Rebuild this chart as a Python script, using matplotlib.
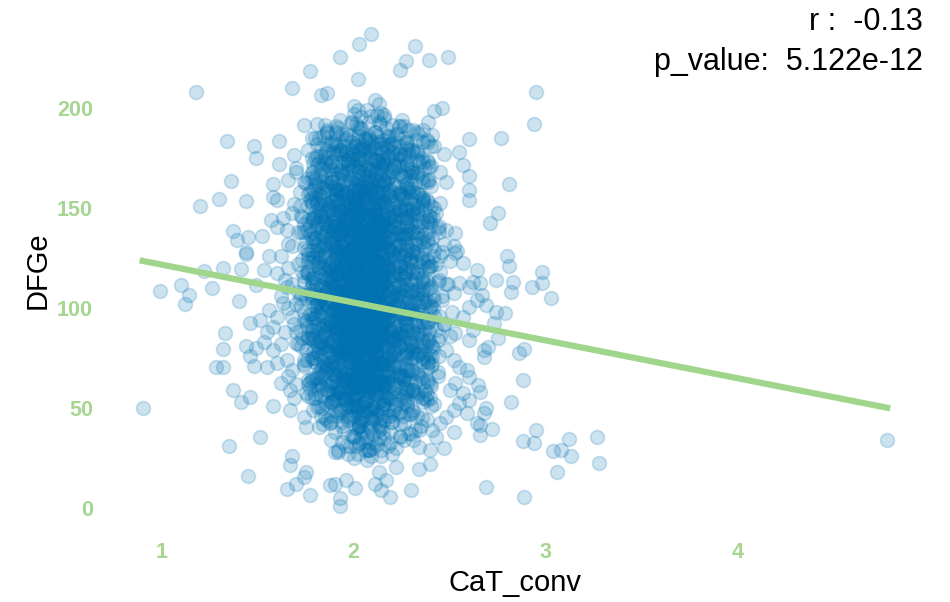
import numpy as np
import matplotlib.pyplot as plt

plt.rcParams['font.family'] = ['Liberation Sans', 'DejaVu Sans']

# scattered points around the blob
cat_conv_sparse = [
    2.09, 2.03, 1.93, 1.77, 2.02, 1.68, 1.83, 1.86, 1.18, 2.11, 2.02, 1.74, 1.85, 1.34, 1.48, 1.49,
    1.61, 1.69, 1.61, 1.70, 1.70, 1.36, 1.30, 1.20, 1.44, 1.58, 1.37, 1.39, 1.45, 1.52, 1.44, 1.66,
    1.75, 1.79, 1.80, 1.58, 1.60, 1.57, 1.60, 1.65, 1.68, 1.73, 1.81, 1.84, 1.89, 1.85, 1.92, 1.86,
    1.91, 1.99, 2.02, 2.04, 2.12, 1.99, 2.04, 2.08,
    2.32, 2.27, 2.24, 2.39, 2.49, 2.95, 2.94, 2.77, 2.60, 2.42, 2.46, 2.55, 2.47, 2.57, 2.60, 2.60,
    2.60, 2.81, 2.75, 2.71, 2.53, 2.54, 2.80, 2.39, 2.45, 2.48, 2.39, 2.45, 2.42, 2.36, 2.41, 2.42,
    2.33, 2.26, 2.20, 2.20, 2.20, 2.16, 2.14, 2.27, 2.33, 2.29, 2.36, 2.43, 2.48, 2.52,
    0.99, 1.10, 1.14, 1.12, 1.22, 1.26, 1.32, 1.41, 1.44, 1.40, 1.33, 1.32, 1.28, 1.32, 1.37, 1.41,
    1.46, 0.90, 1.58, 1.51, 1.35, 1.45, 1.68, 1.67, 1.75, 1.74, 1.65, 1.70, 1.77, 1.875, 1.90, 1.96,
    2.005, 1.93, 1.93, 1.90, 1.92,
    1.46, 1.51, 1.55, 1.58, 1.44, 1.49, 1.46, 1.48, 1.55, 1.60, 1.58, 1.53, 1.65, 1.68, 1.62, 1.67,
    1.69, 1.75, 1.67, 1.74, 1.75, 1.82, 1.875, 1.81, 1.82, 1.89, 1.96, 2.00, 2.03, 2.07, 2.07,
    1.49, 1.53, 1.56, 1.60, 1.65, 1.63, 1.56, 1.60, 1.68, 1.72, 1.70, 1.75, 1.74,
    2.81, 2.74, 2.83, 2.82, 2.98, 2.98, 2.93, 3.03, 2.79, 2.75, 2.86, 2.89, 2.88, 2.82, 2.95,
    2.88, 2.94, 3.04, 3.08, 3.06, 2.69, 2.89, 2.66, 2.66, 2.72, 2.68, 2.69, 2.65, 2.66, 2.64, 2.68,
    2.68, 2.70, 2.74, 2.73, 2.69, 2.67, 2.66, 2.62, 2.60, 2.64, 2.57, 2.53, 2.50,
    3.12, 3.13, 3.27, 3.28, 4.78,
    2.60, 2.59, 2.52, 2.47, 2.43, 2.40, 2.34, 2.31, 2.22, 2.34, 2.40, 2.13, 2.17, 2.11, 2.14, 2.19,
    2.30, 2.08, 2.14, 2.19, 2.24,
    2.48, 2.52, 2.55, 2.59, 2.60, 2.53, 2.50, 2.57, 2.55, 2.52, 2.48, 2.45, 2.41, 2.38, 2.34, 2.29,
    2.26, 2.53, 2.60, 2.62, 2.57, 2.60, 2.64, 2.52, 2.55,
    2.44, 2.47, 2.45, 2.49, 2.46, 2.51, 2.47, 2.50, 2.44, 2.46, 2.41, 2.43, 2.40, 2.42, 2.39, 2.41,
    2.44, 2.40, 2.37, 2.42,
    1.63, 1.66, 1.62, 1.66, 1.64, 1.62, 1.66, 1.64, 1.62, 1.66, 1.70, 1.71, 1.69, 1.72,
]
dfge_sparse = [
    236.9, 231.9, 225.4, 218.5, 214.5, 209.9, 206.5, 207.4, 207.9, 204, 199, 191.5, 191.5, 183.5, 181, 174.9,
    183.5, 176.2, 172, 169.9, 168, 163.2, 154.5, 150.7, 153.2, 161.9, 138.2, 133.7, 135.2, 135.7, 127.9, 164,
    162.4, 159, 164, 155.5, 154, 144, 140.5, 139, 147.5, 145.5, 140.5, 154, 160.5, 177.5, 177.5, 187.5,
    188, 192.5, 190.5, 195.5, 196.5, 174, 179, 184,
    231, 223.2, 218.7, 224, 225.3, 207.9, 192, 184.8, 184.5, 198.2, 199.8, 177.8, 177, 171.2, 166, 159,
    153.7, 161.8, 147.3, 142.3, 137.3, 128.2, 125.7, 170.2, 167.7, 162.7, 164, 152.3, 149.8, 189, 186.5, 180.7,
    184, 190.7, 191.5, 182.3, 177.3, 196.5, 197.3, 167.3, 165.7, 159.8, 154, 147.3, 139, 130.7,
    108.5, 111.5, 106.5, 101.8, 118.2, 109.8, 119.8, 119.3, 126.8, 103.5, 87.3, 79.5, 70.3, 70.3, 59, 52.8,
    55.7, 49.8, 51, 35.3, 31, 16.2, 26.2, 21.5, 18.2, 15.7, 9.8, 12.3, 6.5, 11.5, 12.3, 14,
    10.3, 5.3, 1, 28.2, 29,
    92.7, 94, 88.2, 90.7, 81, 79.8, 76, 71, 70.7, 72.3, 79, 83.2, 74, 69, 62.3, 59,
    54.8, 57.3, 49, 45.7, 40.7, 40.7, 42.3, 50.7, 59, 55.7, 45.7, 35.7, 32.3, 29, 24,
    111.5, 119, 125.7, 117.3, 110.7, 102.3, 99, 95.7, 95.7, 89, 82.3, 79, 74,
    121, 114, 113.2, 108.2, 117.7, 112.7, 110.3, 104.8, 97.3, 84.8, 77.7, 79.3, 64, 53.2, 39,
    33.7, 32.3, 28.5, 29, 18.2, 10.7, 5.7, 41.5, 36.5, 39.5, 47.3, 49.8, 61.5, 58.2, 42.3, 79,
    75.7, 80.7, 98.2, 92.3, 101.5, 106.5, 112.3, 113.2, 110.7, 119, 122.3, 127.3, 123.2,
    34.3, 26, 35.7, 22.7, 34,
    54, 47.3, 38.2, 29.8, 35.7, 29, 30.7, 34, 20.7, 19.8, 22.3, 18.2, 14, 12.3, 9, 5.7,
    9, 29, 29, 32.3, 35.7,
    79, 74, 70.7, 69, 65.7, 62.3, 59, 57.3, 52.3, 49, 45.7, 42.3, 39, 44, 39, 37.3,
    42.3, 87.3, 84, 89, 95.7, 100.7, 104, 107.3, 112.3,
    140, 132, 118, 112, 104, 98, 92, 86, 84, 128, 135, 122, 110, 96, 88, 76,
    68, 62, 55, 52,
    145, 132, 126, 120, 114, 106, 100, 88, 82, 66, 62, 138, 152, 158,
]

# dense core of the cloud, read band by band
cat_conv_dense = [
    # 180-200
    1.86, 1.90, 1.93, 1.95, 1.98, 2.00, 2.02, 2.04, 2.06, 2.07, 2.09, 2.11, 2.13, 2.15, 2.17, 2.19, 2.22, 2.25, 2.28, 2.31,
    1.88, 1.92, 1.96, 1.99, 2.01, 2.03, 2.05, 2.08, 2.10, 2.12, 2.14, 2.16, 2.18, 2.21, 2.24, 2.27, 1.84, 2.00, 2.09, 2.13,
    # 160-180
    1.78, 1.81, 1.84, 1.87, 1.89, 1.92, 1.94, 1.96, 1.98, 2.00, 2.02, 2.04, 2.05, 2.07, 2.09, 2.11, 2.13, 2.15, 2.17, 2.19, 2.22, 2.25, 2.28, 2.32, 2.37,
    1.80, 1.83, 1.86, 1.88, 1.91, 1.93, 1.95, 1.97, 1.99, 2.01, 2.03, 2.04, 2.06, 2.08, 2.10, 2.12, 2.14, 2.16, 2.18, 2.21, 2.23, 2.26, 2.30, 2.34, 1.76,
    1.82, 1.85, 1.90, 1.94, 1.97, 2.00, 2.02, 2.05, 2.07, 2.09, 2.11, 2.13, 2.15, 2.17, 2.20, 2.24, 2.27, 1.99, 2.03, 2.08, 2.12, 2.06, 1.93, 2.16, 2.29,
    # 140-160
    1.72, 1.76, 1.80, 1.83, 1.86, 1.88, 1.91, 1.93, 1.95, 1.97, 1.99, 2.01, 2.03, 2.05, 2.07, 2.09, 2.11, 2.13, 2.15, 2.18, 2.21, 2.24, 2.28, 2.33, 2.39,
    1.74, 1.78, 1.81, 1.84, 1.87, 1.90, 1.92, 1.94, 1.96, 1.98, 2.00, 2.02, 2.04, 2.06, 2.08, 2.10, 2.12, 2.14, 2.16, 2.19, 2.22, 2.26, 2.30, 2.35, 2.02,
    1.77, 1.82, 1.85, 1.89, 1.91, 1.94, 1.96, 1.98, 2.00, 2.02, 2.04, 2.06, 2.08, 2.10, 2.12, 2.14, 2.17, 2.20, 2.23, 2.27, 2.31, 2.01, 2.07, 2.11, 1.97,
    1.79, 1.84, 1.87, 1.90, 1.93, 1.95, 1.97, 1.99, 2.01, 2.03, 2.05, 2.07, 2.09, 2.11, 2.13, 2.15, 2.18, 2.21, 2.25, 2.29, 2.36, 2.00, 2.06, 2.14, 1.92,
    1.81, 1.86, 1.92, 1.96, 1.99, 2.02, 2.04, 2.06, 2.08, 2.10, 2.12, 2.15, 2.17, 2.20, 2.24, 2.05, 2.09, 1.94, 2.13, 2.19, 1.89, 2.03, 2.16, 2.27, 1.98,
    # 120-140
    1.68, 1.73, 1.77, 1.81, 1.84, 1.87, 1.90, 1.92, 1.94, 1.96, 1.98, 2.00, 2.02, 2.04, 2.06, 2.08, 2.10, 2.12, 2.15, 2.18, 2.21, 2.25, 2.30, 2.37, 2.45,
    1.71, 1.75, 1.79, 1.83, 1.86, 1.89, 1.91, 1.93, 1.95, 1.97, 1.99, 2.01, 2.03, 2.05, 2.07, 2.09, 2.11, 2.13, 2.16, 2.19, 2.23, 2.27, 2.33, 2.40, 2.03,
    1.74, 1.78, 1.82, 1.85, 1.88, 1.91, 1.93, 1.95, 1.97, 1.99, 2.01, 2.03, 2.05, 2.07, 2.09, 2.11, 2.13, 2.15, 2.18, 2.21, 2.24, 2.29, 2.35, 2.08, 2.00,
    1.76, 1.80, 1.84, 1.87, 1.90, 1.92, 1.94, 1.96, 1.98, 2.00, 2.02, 2.04, 2.06, 2.08, 2.10, 2.12, 2.14, 2.17, 2.20, 2.23, 2.27, 2.32, 2.42, 2.05, 1.97,
    1.79, 1.85, 1.89, 1.93, 1.96, 1.99, 2.01, 2.03, 2.05, 2.07, 2.09, 2.11, 2.14, 2.16, 2.19, 2.22, 2.26, 2.31, 2.02, 2.06, 2.10, 1.95, 2.13, 2.18, 1.91,
    1.82, 1.88, 1.94, 1.98, 2.01, 2.04, 2.07, 2.09, 2.12, 2.15, 2.20, 2.24, 2.00, 2.03, 2.08, 2.11, 1.96, 2.14, 2.06, 1.92, 2.17, 2.02, 2.10, 1.99, 2.28,
    # 100-120
    1.68, 1.72, 1.76, 1.80, 1.83, 1.86, 1.89, 1.91, 1.93, 1.95, 1.97, 1.99, 2.01, 2.03, 2.05, 2.07, 2.09, 2.11, 2.14, 2.17, 2.20, 2.24, 2.29, 2.36, 2.46,
    1.70, 1.74, 1.78, 1.82, 1.85, 1.88, 1.90, 1.92, 1.94, 1.96, 1.98, 2.00, 2.02, 2.04, 2.06, 2.08, 2.10, 2.12, 2.15, 2.18, 2.22, 2.26, 2.32, 2.40, 2.01,
    1.73, 1.77, 1.81, 1.84, 1.87, 1.90, 1.92, 1.94, 1.96, 1.98, 2.00, 2.02, 2.04, 2.06, 2.08, 2.10, 2.12, 2.14, 2.17, 2.20, 2.23, 2.28, 2.34, 2.44, 2.07,
    1.75, 1.79, 1.83, 1.86, 1.89, 1.91, 1.93, 1.95, 1.97, 1.99, 2.01, 2.03, 2.05, 2.07, 2.09, 2.11, 2.13, 2.16, 2.19, 2.22, 2.26, 2.31, 2.38, 2.04, 1.96,
    1.78, 1.84, 1.88, 1.92, 1.95, 1.98, 2.00, 2.02, 2.04, 2.06, 2.08, 2.10, 2.13, 2.15, 2.18, 2.21, 2.25, 2.30, 2.01, 2.05, 2.09, 1.94, 2.12, 2.17, 1.90,
    1.81, 1.87, 1.93, 1.97, 2.00, 2.03, 2.06, 2.08, 2.11, 2.14, 2.19, 2.23, 1.99, 2.02, 2.07, 2.10, 1.95, 2.13, 2.05, 1.91, 2.16, 2.01, 2.09, 1.98, 2.27,
    1.71, 1.85, 1.94, 2.00, 2.04, 2.08, 2.12, 2.18, 2.33, 2.48, 1.98, 2.03, 2.06, 2.10, 2.15, 1.96, 2.02, 2.07, 2.11, 2.21, 1.89, 2.05, 2.13, 1.99, 2.42,
    # 80-100
    1.69, 1.73, 1.77, 1.81, 1.84, 1.87, 1.90, 1.92, 1.94, 1.96, 1.98, 2.00, 2.02, 2.04, 2.06, 2.08, 2.10, 2.12, 2.15, 2.18, 2.21, 2.25, 2.30, 2.37, 2.45,
    1.71, 1.75, 1.79, 1.83, 1.86, 1.89, 1.91, 1.93, 1.95, 1.97, 1.99, 2.01, 2.03, 2.05, 2.07, 2.09, 2.11, 2.13, 2.16, 2.19, 2.23, 2.27, 2.33, 2.41, 2.02,
    1.74, 1.78, 1.82, 1.85, 1.88, 1.91, 1.93, 1.95, 1.97, 1.99, 2.01, 2.03, 2.05, 2.07, 2.09, 2.11, 2.13, 2.15, 2.18, 2.21, 2.24, 2.29, 2.35, 2.08, 2.00,
    1.76, 1.80, 1.84, 1.87, 1.90, 1.92, 1.94, 1.96, 1.98, 2.00, 2.02, 2.04, 2.06, 2.08, 2.10, 2.12, 2.14, 2.17, 2.20, 2.23, 2.27, 2.32, 2.43, 2.05, 1.97,
    1.79, 1.85, 1.89, 1.93, 1.96, 1.99, 2.01, 2.03, 2.05, 2.07, 2.09, 2.11, 2.14, 2.16, 2.19, 2.22, 2.26, 2.31, 2.02, 2.06, 2.10, 1.95, 2.13, 2.18, 1.91,
    1.82, 1.88, 1.94, 1.98, 2.01, 2.04, 2.07, 2.09, 2.12, 2.15, 2.20, 2.24, 2.00, 2.03, 2.08, 2.11, 1.96, 2.14, 2.06, 1.92, 2.17, 2.02, 2.10, 1.99, 2.28,
    1.70, 1.86, 1.95, 2.00, 2.05, 2.09, 2.13, 2.19, 2.35, 2.47, 1.97, 2.03, 2.07, 2.11, 2.16, 1.93, 2.01, 2.06, 2.12, 2.22, 1.90, 2.04, 2.14, 1.98, 2.39,
    # 60-80
    1.74, 1.78, 1.82, 1.85, 1.88, 1.90, 1.92, 1.94, 1.96, 1.98, 2.00, 2.02, 2.04, 2.06, 2.08, 2.10, 2.12, 2.14, 2.17, 2.20, 2.23, 2.27, 2.32, 2.38, 2.44,
    1.76, 1.80, 1.84, 1.87, 1.89, 1.91, 1.93, 1.95, 1.97, 1.99, 2.01, 2.03, 2.05, 2.07, 2.09, 2.11, 2.13, 2.16, 2.19, 2.22, 2.26, 2.30, 2.36, 2.02, 2.08,
    1.79, 1.83, 1.86, 1.89, 1.92, 1.94, 1.96, 1.98, 2.00, 2.02, 2.04, 2.06, 2.08, 2.10, 2.12, 2.15, 2.18, 2.21, 2.25, 2.29, 2.41, 2.05, 2.11, 1.97, 2.01,
    1.81, 1.87, 1.91, 1.95, 1.98, 2.01, 2.03, 2.05, 2.07, 2.09, 2.11, 2.13, 2.16, 2.19, 2.23, 2.28, 2.34, 2.04, 2.08, 2.12, 1.96, 2.14, 2.17, 1.93, 2.00,
    1.84, 1.90, 1.95, 1.99, 2.02, 2.06, 2.09, 2.12, 2.15, 2.20, 2.24, 2.00, 2.04, 2.08, 2.11, 1.97, 2.14, 2.07, 1.93, 2.18, 2.03, 2.10, 1.99, 2.26, 2.05,
    1.77, 1.86, 1.92, 1.97, 2.01, 2.05, 2.10, 2.13, 2.18, 2.31, 1.99, 2.03, 2.07, 2.11, 2.16, 1.94, 2.02, 2.06, 2.12, 2.21, 1.88, 2.04, 2.15, 1.98, 2.37,
    # 40-60
    1.82, 1.86, 1.89, 1.92, 1.94, 1.96, 1.98, 2.00, 2.02, 2.04, 2.06, 2.08, 2.10, 2.12, 2.14, 2.16, 2.18, 2.21, 2.24, 2.28, 2.33, 2.38, 2.03, 2.09, 1.97,
    1.84, 1.88, 1.91, 1.93, 1.95, 1.97, 1.99, 2.01, 2.03, 2.05, 2.07, 2.09, 2.11, 2.13, 2.15, 2.17, 2.20, 2.23, 2.26, 2.31, 2.05, 2.12, 1.99, 2.08, 2.02,
    1.87, 1.90, 1.94, 1.98, 2.00, 2.02, 2.04, 2.06, 2.08, 2.10, 2.13, 2.16, 2.19, 2.22, 2.27, 2.35, 2.01, 2.05, 2.09, 2.14, 1.96, 2.11, 2.03, 2.18, 1.92,
    1.85, 1.93, 1.99, 2.03, 2.07, 2.11, 2.15, 2.20, 2.29, 2.00, 2.06, 2.10, 2.14, 1.95, 2.04, 2.08, 2.12, 2.24, 1.90, 2.02, 2.17, 1.97, 2.05, 2.09, 2.01,
    # 25-40
    1.88, 1.92, 1.95, 1.98, 2.00, 2.02, 2.04, 2.06, 2.08, 2.10, 2.12, 2.14, 2.16, 2.19, 2.22, 2.26, 2.30, 2.01, 2.07, 2.13,
    1.90, 1.94, 1.97, 1.99, 2.03, 2.05, 2.09, 2.11, 2.15, 2.18, 2.24, 2.32, 1.96, 2.00, 2.06, 2.13, 2.20, 2.04, 2.10, 2.08,
]
dfge_dense = [
    188, 183, 194, 181, 186, 197, 183, 190, 185, 199, 181, 188, 193, 184, 190, 182, 187, 194, 183, 189,
    182, 190, 185, 181, 192, 186, 181, 193, 183, 186, 180, 195, 181, 184, 191, 180, 186, 201, 196, 202,
    168, 176, 163, 171, 178, 165, 173, 161, 169, 177, 164, 172, 179, 166, 162, 174, 170, 178, 163, 168, 175, 166, 172, 162, 170,
    161, 169, 175, 163, 170, 177, 166, 172, 179, 162, 168, 175, 171, 177, 164, 160, 167, 172, 176, 162, 171, 177, 166, 173, 165,
    173, 166, 160, 168, 174, 165, 179, 161, 170, 175, 167, 162, 173, 180, 169, 174, 160, 171, 164, 178, 170, 163, 179, 164, 176,
    151, 144, 157, 148, 141, 154, 159, 146, 150, 143, 156, 140, 152, 147, 158, 144, 149, 155, 142, 151, 146, 157, 143, 150, 146,
    142, 153, 146, 158, 150, 144, 152, 157, 141, 148, 154, 145, 159, 141, 150, 156, 143, 147, 153, 159, 144, 149, 155, 141, 149,
    158, 149, 143, 147, 156, 140, 145, 153, 159, 150, 142, 156, 146, 152, 158, 141, 148, 152, 140, 145, 152, 145, 141, 146, 158,
    145, 155, 151, 141, 148, 157, 152, 143, 147, 157, 153, 144, 140, 155, 151, 158, 157, 148, 154, 158, 155, 152, 149, 144, 153,
    153, 146, 159, 145, 150, 142, 148, 155, 153, 142, 147, 145, 151, 141, 149, 157, 159, 149, 139, 156, 143, 155, 141, 150, 140,
    131, 124, 137, 128, 121, 134, 139, 126, 130, 123, 136, 120, 132, 127, 138, 124, 129, 135, 122, 131, 126, 137, 123, 130, 126,
    122, 133, 126, 138, 130, 124, 132, 137, 121, 128, 134, 125, 139, 121, 130, 136, 123, 127, 133, 139, 124, 129, 135, 121, 129,
    138, 129, 123, 127, 136, 120, 125, 133, 139, 130, 122, 136, 126, 132, 138, 121, 128, 132, 120, 125, 132, 125, 121, 126, 138,
    125, 135, 131, 121, 128, 137, 132, 123, 127, 137, 133, 124, 120, 135, 131, 138, 137, 128, 134, 138, 135, 132, 129, 128, 120,
    133, 126, 139, 125, 130, 122, 128, 135, 133, 122, 127, 125, 131, 121, 129, 137, 123, 128, 139, 126, 134, 121, 139, 124, 130,
    120, 131, 127, 136, 124, 130, 137, 132, 123, 135, 127, 121, 132, 127, 122, 139, 134, 128, 125, 137, 133, 121, 126, 124, 137,
    112, 105, 117, 108, 101, 114, 119, 106, 110, 103, 116, 100, 112, 107, 118, 104, 109, 115, 102, 111, 106, 117, 103, 110, 106,
    102, 113, 106, 118, 110, 104, 112, 117, 101, 108, 114, 105, 119, 101, 110, 116, 103, 107, 113, 119, 104, 109, 115, 101, 109,
    118, 109, 103, 107, 116, 100, 105, 113, 119, 110, 102, 116, 106, 112, 118, 101, 108, 112, 100, 105, 112, 105, 101, 113, 106,
    105, 115, 111, 101, 108, 117, 112, 103, 107, 117, 113, 104, 100, 115, 111, 118, 117, 108, 114, 118, 115, 112, 109, 108, 100,
    113, 106, 119, 105, 110, 102, 108, 115, 113, 102, 107, 105, 111, 101, 109, 117, 103, 108, 119, 106, 114, 101, 119, 104, 110,
    100, 111, 107, 116, 104, 110, 117, 112, 103, 115, 107, 101, 112, 107, 102, 119, 114, 108, 105, 117, 113, 101, 106, 104, 117,
    108, 103, 118, 111, 102, 114, 109, 103, 118, 112, 106, 116, 109, 104, 118, 109, 101, 112, 116, 110, 115, 108, 105, 114, 104,
    92, 85, 97, 88, 81, 94, 99, 86, 90, 83, 96, 80, 92, 87, 98, 84, 89, 95, 82, 91, 86, 97, 83, 90, 86,
    82, 93, 86, 98, 90, 84, 92, 97, 81, 88, 94, 85, 99, 81, 90, 96, 83, 87, 93, 99, 84, 89, 95, 81, 89,
    98, 89, 83, 87, 96, 80, 85, 93, 99, 90, 82, 96, 86, 92, 98, 81, 88, 92, 80, 85, 92, 85, 81, 86, 98,
    85, 95, 91, 81, 88, 97, 92, 83, 87, 97, 93, 84, 80, 95, 91, 98, 97, 88, 94, 98, 95, 92, 89, 88, 80,
    93, 86, 99, 85, 90, 82, 88, 95, 93, 82, 87, 85, 91, 81, 89, 97, 83, 88, 99, 86, 94, 81, 99, 84, 90,
    80, 91, 87, 96, 84, 90, 97, 92, 83, 95, 87, 81, 92, 87, 82, 99, 94, 88, 85, 97, 93, 81, 86, 84, 97,
    88, 83, 98, 91, 82, 94, 89, 83, 98, 92, 86, 96, 89, 84, 98, 89, 81, 92, 96, 90, 95, 88, 85, 94, 84,
    71, 64, 77, 68, 61, 74, 79, 66, 70, 63, 76, 60, 72, 67, 78, 64, 69, 75, 62, 71, 66, 77, 63, 70, 66,
    62, 73, 66, 78, 70, 64, 72, 77, 61, 68, 74, 65, 79, 61, 70, 76, 63, 67, 73, 79, 64, 69, 75, 69, 61,
    78, 69, 63, 67, 76, 60, 65, 73, 79, 70, 62, 76, 66, 72, 78, 61, 68, 72, 60, 65, 72, 65, 61, 66, 78,
    65, 75, 71, 61, 68, 77, 72, 63, 67, 77, 73, 64, 60, 75, 71, 78, 77, 68, 74, 78, 75, 72, 69, 68, 60,
    73, 66, 79, 65, 70, 62, 68, 75, 73, 62, 67, 65, 71, 61, 69, 77, 63, 68, 79, 66, 74, 61, 79, 64, 70,
    60, 71, 67, 76, 64, 70, 77, 72, 63, 75, 67, 61, 72, 67, 62, 79, 74, 68, 65, 77, 73, 61, 66, 64, 77,
    51, 44, 57, 48, 41, 54, 59, 46, 50, 43, 56, 40, 52, 47, 58, 44, 49, 55, 42, 51, 46, 57, 43, 50, 46,
    42, 53, 46, 58, 50, 44, 52, 57, 41, 48, 54, 45, 59, 41, 50, 56, 43, 47, 53, 59, 44, 49, 55, 41, 49,
    58, 49, 43, 47, 56, 40, 45, 53, 59, 50, 42, 56, 46, 52, 58, 41, 48, 52, 40, 45, 52, 45, 41, 46, 58,
    45, 55, 51, 41, 48, 57, 52, 43, 47, 57, 53, 44, 40, 55, 51, 58, 57, 48, 54, 58, 55, 52, 49, 48, 40,
    34, 28, 38, 31, 36, 27, 39, 33, 29, 37, 32, 26, 35, 38, 30, 34, 37, 31, 36, 39,
    38, 33, 27, 36, 32, 38, 26, 33, 38, 31, 36, 39, 31, 25, 29, 35, 27, 35, 30, 33,
]

# more of the saturated centre, a bit wider than the rows above
cat_conv_centre = [
    1.76, 1.79, 1.82, 1.85, 1.88, 1.91, 1.94, 1.97, 2.00, 2.03, 2.06, 2.09, 2.12, 2.15, 2.18, 2.21, 2.24, 2.27, 2.30, 2.33, 2.02, 2.08, 2.14, 1.96, 2.11,
    1.76, 1.79, 1.82, 1.85, 1.88, 1.91, 1.94, 1.97, 2.00, 2.03, 2.06, 2.09, 2.12, 2.15, 2.18, 2.21, 2.24, 2.27, 2.30, 2.33, 2.02, 2.08, 2.14, 1.96, 2.11,
    1.74, 1.77, 1.80, 1.83, 1.86, 1.89, 1.92, 1.95, 1.98, 2.01, 2.04, 2.07, 2.10, 2.13, 2.16, 2.19, 2.22, 2.25, 2.28, 2.31, 2.34, 2.37, 2.40, 1.99, 2.09,
    1.725, 1.755, 1.785, 1.815, 1.845, 1.875, 1.905, 1.935, 1.965, 1.995, 2.025, 2.055, 2.085, 2.115, 2.145, 2.175, 2.205, 2.235, 2.265, 2.295, 2.325, 2.355, 2.385, 2.415, 2.445,
    1.74, 1.77, 1.80, 1.83, 1.86, 1.89, 1.92, 1.95, 1.98, 2.01, 2.04, 2.07, 2.10, 2.13, 2.16, 2.19, 2.22, 2.25, 2.28, 2.31, 2.34, 2.37, 2.40, 1.99, 2.09,
    1.725, 1.755, 1.785, 1.815, 1.845, 1.875, 1.905, 1.935, 1.965, 1.995, 2.025, 2.055, 2.085, 2.115, 2.145, 2.175, 2.205, 2.235, 2.265, 2.295, 2.325, 2.355, 2.385, 2.415, 2.445,
    1.76, 1.79, 1.82, 1.85, 1.88, 1.91, 1.94, 1.97, 2.00, 2.03, 2.06, 2.09, 2.12, 2.15, 2.18, 2.21, 2.24, 2.27, 2.30, 2.33, 2.02, 2.08, 2.14, 1.96, 2.11,
    1.725, 1.755, 1.785, 1.815, 1.845, 1.875, 1.905, 1.935, 1.965, 1.995, 2.025, 2.055, 2.085, 2.115, 2.145, 2.175, 2.205, 2.235, 2.265, 2.295, 2.325, 2.355, 2.385, 2.415, 2.445,
    1.74, 1.77, 1.80, 1.83, 1.86, 1.89, 1.92, 1.95, 1.98, 2.01, 2.04, 2.07, 2.10, 2.13, 2.16, 2.19, 2.22, 2.25, 2.28, 2.31, 2.34, 2.37, 2.40, 1.99, 2.09,
    1.725, 1.755, 1.785, 1.815, 1.845, 1.875, 1.905, 1.935, 1.965, 1.995, 2.025, 2.055, 2.085, 2.115, 2.145, 2.175, 2.205, 2.235, 2.265, 2.295, 2.325, 2.355, 2.385, 2.415, 2.445,
    1.76, 1.79, 1.82, 1.85, 1.88, 1.91, 1.94, 1.97, 2.00, 2.03, 2.06, 2.09, 2.12, 2.15, 2.18, 2.21, 2.24, 2.27, 2.30, 2.33, 2.02, 2.08, 2.14, 1.96, 2.11,
    1.74, 1.77, 1.80, 1.83, 1.86, 1.89, 1.92, 1.95, 1.98, 2.01, 2.04, 2.07, 2.10, 2.13, 2.16, 2.19, 2.22, 2.25, 2.28, 2.31, 2.34, 2.37, 2.40, 1.99, 2.09,
    1.725, 1.755, 1.785, 1.815, 1.845, 1.875, 1.905, 1.935, 1.965, 1.995, 2.025, 2.055, 2.085, 2.115, 2.145, 2.175, 2.205, 2.235, 2.265, 2.295, 2.325, 2.355, 2.385, 2.415, 2.445,
    1.76, 1.79, 1.82, 1.85, 1.88, 1.91, 1.94, 1.97, 2.00, 2.03, 2.06, 2.09, 2.12, 2.15, 2.18, 2.21, 2.24, 2.27, 2.30, 2.33, 2.02, 2.08, 2.14, 1.96, 2.11,
    1.74, 1.77, 1.80, 1.83, 1.86, 1.89, 1.92, 1.95, 1.98, 2.01, 2.04, 2.07, 2.10, 2.13, 2.16, 2.19, 2.22, 2.25, 2.28, 2.31, 2.34, 2.37, 2.40, 1.99, 2.09,
    1.76, 1.79, 1.82, 1.85, 1.88, 1.91, 1.94, 1.97, 2.00, 2.03, 2.06, 2.09, 2.12, 2.15, 2.18, 2.21, 2.24, 2.27, 2.30, 2.33, 2.02, 2.08, 2.14, 1.96, 2.11,
    1.76, 1.79, 1.82, 1.85, 1.88, 1.91, 1.94, 1.97, 2.00, 2.03, 2.06, 2.09, 2.12, 2.15, 2.18, 2.21, 2.24, 2.27, 2.30, 2.33, 2.02, 2.08, 2.14, 1.96, 2.11,
    1.76, 1.79, 1.82, 1.85, 1.88, 1.91, 1.94, 1.97, 2.00, 2.03, 2.06, 2.09, 2.12, 2.15, 2.18, 2.21, 2.24, 2.27, 2.30, 2.33, 2.02, 2.08, 2.14, 1.96, 2.11,
    1.76, 1.79, 1.82, 1.85, 1.88, 1.91, 1.94, 1.97, 2.00, 2.03, 2.06, 2.09, 2.12, 2.15, 2.18, 2.21, 2.24, 2.27, 2.30, 2.33, 2.02, 2.08, 2.14, 1.96, 2.11,
    1.76, 1.79, 1.82, 1.85, 1.88, 1.91, 1.94, 1.97, 2.00, 2.03, 2.06, 2.09, 2.12, 2.15, 2.18, 2.21, 2.24, 2.27, 2.30, 2.33, 2.02, 2.08, 2.14, 1.96, 2.11,
]
dfge_centre = [
    179, 172, 185, 176, 169, 182, 187, 174, 178, 171, 184, 168, 180, 175, 186, 172, 177, 183, 170, 179, 174, 185, 171, 178, 174,
    157, 168, 161, 173, 165, 159, 167, 172, 156, 163, 169, 160, 174, 156, 165, 171, 158, 162, 168, 174, 159, 164, 170, 156, 164,
    163, 154, 148, 152, 161, 145, 150, 158, 164, 155, 147, 161, 151, 157, 163, 146, 153, 157, 145, 150, 157, 150, 146, 151, 163,
    146, 139, 152, 143, 136, 149, 154, 141, 145, 138, 151, 135, 147, 142, 153, 139, 144, 150, 137, 146, 141, 152, 138, 145, 141,
    130, 141, 134, 146, 138, 132, 140, 145, 129, 136, 142, 133, 147, 129, 138, 144, 131, 135, 141, 147, 132, 137, 143, 129, 137,
    138, 129, 123, 127, 136, 120, 125, 133, 139, 130, 122, 136, 126, 132, 138, 121, 128, 132, 120, 125, 132, 125, 121, 126, 138,
    123, 116, 129, 120, 113, 126, 131, 118, 122, 115, 128, 112, 124, 119, 130, 116, 121, 127, 114, 123, 118, 129, 115, 122, 118,
    107, 118, 111, 123, 115, 109, 117, 122, 106, 113, 119, 110, 124, 106, 115, 121, 108, 112, 118, 124, 109, 114, 120, 106, 114,
    116, 107, 101, 105, 114, 98, 103, 111, 117, 108, 100, 114, 104, 110, 116, 99, 106, 110, 98, 103, 110, 103, 99, 104, 116,
    101, 94, 107, 98, 91, 104, 109, 96, 100, 93, 106, 90, 102, 97, 108, 94, 99, 105, 92, 101, 96, 107, 93, 100, 96,
    86, 97, 90, 102, 94, 88, 96, 101, 85, 92, 98, 89, 103, 85, 94, 100, 87, 91, 97, 103, 88, 93, 99, 85, 93,
    94, 85, 79, 83, 92, 76, 81, 89, 95, 86, 78, 92, 82, 88, 94, 77, 84, 88, 76, 81, 88, 81, 77, 82, 94,
    81, 74, 87, 78, 71, 84, 89, 76, 80, 73, 86, 70, 82, 77, 88, 74, 79, 85, 72, 81, 76, 87, 73, 80, 76,
    64, 75, 68, 80, 72, 66, 74, 79, 63, 70, 76, 67, 81, 63, 72, 78, 65, 69, 75, 81, 66, 71, 77, 63, 71,
    72, 63, 57, 61, 70, 54, 59, 67, 73, 64, 56, 70, 60, 66, 72, 55, 62, 66, 54, 59, 66, 59, 55, 60, 72,
    56, 49, 62, 53, 46, 59, 64, 51, 55, 48, 61, 45, 57, 52, 63, 49, 54, 60, 47, 56, 51, 62, 48, 55, 51,
    151, 144, 157, 148, 141, 154, 159, 146, 150, 143, 156, 140, 152, 147, 158, 144, 149, 155, 142, 151, 146, 157, 143, 150, 146,
    127, 138, 131, 143, 135, 129, 137, 142, 126, 133, 139, 130, 144, 126, 135, 141, 128, 132, 138, 144, 129, 134, 140, 126, 134,
    118, 109, 103, 107, 116, 100, 105, 113, 119, 110, 102, 116, 106, 112, 118, 101, 108, 112, 100, 105, 112, 105, 101, 106, 118,
    91, 84, 97, 88, 81, 94, 99, 86, 90, 83, 96, 80, 92, 87, 98, 84, 89, 95, 82, 91, 86, 97, 83, 90, 86,
]

# still more of the centre, rows from y ~190 down to ~45
cat_conv_fill = [
    1.785, 1.81, 1.835, 1.86, 1.885, 1.91, 1.935, 1.96, 1.985, 2.01, 2.035, 2.06, 2.085, 2.11, 2.135, 2.16, 2.185, 2.21, 2.235, 2.26, 2.285, 2.31, 2.335, 2.36, 2.385,
    1.80, 1.83, 1.855, 1.88, 1.905, 1.93, 1.955, 1.98, 2.005, 2.03, 2.055, 2.08, 2.105, 2.13, 2.155, 2.18, 2.205, 2.23, 2.255, 2.28, 2.305, 2.33, 2.355, 2.38, 2.405,
    1.785, 1.81, 1.835, 1.86, 1.885, 1.91, 1.935, 1.96, 1.985, 2.01, 2.035, 2.06, 2.085, 2.11, 2.135, 2.16, 2.185, 2.21, 2.235, 2.26, 2.285, 2.31, 2.335, 2.36, 2.385,
    1.80, 1.83, 1.855, 1.88, 1.905, 1.93, 1.955, 1.98, 2.005, 2.03, 2.055, 2.08, 2.105, 2.13, 2.155, 2.18, 2.205, 2.23, 2.255, 2.28, 2.305, 2.33, 2.355, 2.38, 2.405,
    1.785, 1.81, 1.835, 1.86, 1.885, 1.91, 1.935, 1.96, 1.985, 2.01, 2.035, 2.06, 2.085, 2.11, 2.135, 2.16, 2.185, 2.21, 2.235, 2.26, 2.285, 2.31, 2.335, 2.36, 2.385,
    1.80, 1.83, 1.855, 1.88, 1.905, 1.93, 1.955, 1.98, 2.005, 2.03, 2.055, 2.08, 2.105, 2.13, 2.155, 2.18, 2.205, 2.23, 2.255, 2.28, 2.305, 2.33, 2.355, 2.38, 2.405,
    1.785, 1.81, 1.835, 1.86, 1.885, 1.91, 1.935, 1.96, 1.985, 2.01, 2.035, 2.06, 2.085, 2.11, 2.135, 2.16, 2.185, 2.21, 2.235, 2.26, 2.285, 2.31, 2.335, 2.36, 2.385,
    1.80, 1.83, 1.855, 1.88, 1.905, 1.93, 1.955, 1.98, 2.005, 2.03, 2.055, 2.08, 2.105, 2.13, 2.155, 2.18, 2.205, 2.23, 2.255, 2.28, 2.305, 2.33, 2.355, 2.38, 2.405,
    1.785, 1.81, 1.835, 1.86, 1.885, 1.91, 1.935, 1.96, 1.985, 2.01, 2.035, 2.06, 2.085, 2.11, 2.135, 2.16, 2.185, 2.21, 2.235, 2.26, 2.285, 2.31, 2.335, 2.36, 2.385,
    1.80, 1.83, 1.855, 1.88, 1.905, 1.93, 1.955, 1.98, 2.005, 2.03, 2.055, 2.08, 2.105, 2.13, 2.155, 2.18, 2.205, 2.23, 2.255, 2.28, 2.305, 2.33, 2.355, 2.38, 2.405,
    1.785, 1.81, 1.835, 1.86, 1.885, 1.91, 1.935, 1.96, 1.985, 2.01, 2.035, 2.06, 2.085, 2.11, 2.135, 2.16, 2.185, 2.21, 2.235, 2.26, 2.285, 2.31, 2.335, 2.36, 2.385,
    1.80, 1.83, 1.855, 1.88, 1.905, 1.93, 1.955, 1.98, 2.005, 2.03, 2.055, 2.08, 2.105, 2.13, 2.155, 2.18, 2.205, 2.23, 2.255, 2.28, 2.305, 2.33, 2.355, 2.38, 2.405,
    1.785, 1.81, 1.835, 1.86, 1.885, 1.91, 1.935, 1.96, 1.985, 2.01, 2.035, 2.06, 2.085, 2.11, 2.135, 2.16, 2.185, 2.21, 2.235, 2.26, 2.285, 2.31, 2.335, 2.36, 2.385,
    1.80, 1.83, 1.855, 1.88, 1.905, 1.93, 1.955, 1.98, 2.005, 2.03, 2.055, 2.08, 2.105, 2.13, 2.155, 2.18, 2.205, 2.23, 2.255, 2.28, 2.305, 2.33, 2.355, 2.38, 2.405,
    1.785, 1.81, 1.835, 1.86, 1.885, 1.91, 1.935, 1.96, 1.985, 2.01, 2.035, 2.06, 2.085, 2.11, 2.135, 2.16, 2.185, 2.21, 2.235, 2.26, 2.285, 2.31, 2.335, 2.36, 2.385,
    1.80, 1.83, 1.855, 1.88, 1.905, 1.93, 1.955, 1.98, 2.005, 2.03, 2.055, 2.08, 2.105, 2.13, 2.155, 2.18, 2.205, 2.23, 2.255, 2.28, 2.305, 2.33, 2.355, 2.38, 2.405,
    1.785, 1.81, 1.835, 1.86, 1.885, 1.91, 1.935, 1.96, 1.985, 2.01, 2.035, 2.06, 2.085, 2.11, 2.135, 2.16, 2.185, 2.21, 2.235, 2.26, 2.285, 2.31, 2.335, 2.36, 2.385,
    1.80, 1.83, 1.855, 1.88, 1.905, 1.93, 1.955, 1.98, 2.005, 2.03, 2.055, 2.08, 2.105, 2.13, 2.155, 2.18, 2.205, 2.23, 2.255, 2.28, 2.305, 2.33, 2.355, 2.38, 2.405,
    1.785, 1.81, 1.835, 1.86, 1.885, 1.91, 1.935, 1.96, 1.985, 2.01, 2.035, 2.06, 2.085, 2.11, 2.135, 2.16, 2.185, 2.21, 2.235, 2.26, 2.285, 2.31, 2.335, 2.36, 2.385,
    1.80, 1.83, 1.855, 1.88, 1.905, 1.93, 1.955, 1.98, 2.005, 2.03, 2.055, 2.08, 2.105, 2.13, 2.155, 2.18, 2.205, 2.23, 2.255, 2.28, 2.305, 2.33, 2.355, 2.38, 2.405,
    1.785, 1.81, 1.835, 1.86, 1.885, 1.91, 1.935, 1.96, 1.985, 2.01, 2.035, 2.06, 2.085, 2.11, 2.135, 2.16, 2.185, 2.21, 2.235, 2.26, 2.285, 2.31, 2.335, 2.36, 2.385,
    1.80, 1.83, 1.855, 1.88, 1.905, 1.93, 1.955, 1.98, 2.005, 2.03, 2.055, 2.08, 2.105, 2.13, 2.155, 2.18, 2.205, 2.23, 2.255, 2.28, 2.305, 2.33, 2.355, 2.38, 2.405,
    1.785, 1.81, 1.835, 1.86, 1.885, 1.91, 1.935, 1.96, 1.985, 2.01, 2.035, 2.06, 2.085, 2.11, 2.135, 2.16, 2.185, 2.21, 2.235, 2.26, 2.285, 2.31, 2.335, 2.36, 2.385,
    1.80, 1.83, 1.855, 1.88, 1.905, 1.93, 1.955, 1.98, 2.005, 2.03, 2.055, 2.08, 2.105, 2.13, 2.155, 2.18, 2.205, 2.23, 2.255, 2.28, 2.305, 2.33, 2.355, 2.38, 2.405,
    1.785, 1.81, 1.835, 1.86, 1.885, 1.91, 1.935, 1.96, 1.985, 2.01, 2.035, 2.06, 2.085, 2.11, 2.135, 2.16, 2.185, 2.21, 2.235, 2.26, 2.285, 2.31, 2.335, 2.36, 2.385,
    1.80, 1.83, 1.855, 1.88, 1.905, 1.93, 1.955, 1.98, 2.005, 2.03, 2.055, 2.08, 2.105, 2.13, 2.155, 2.18, 2.205, 2.23, 2.255, 2.28, 2.305, 2.33, 2.355, 2.38, 2.405,
    1.785, 1.81, 1.835, 1.86, 1.885, 1.91, 1.935, 1.96, 1.985, 2.01, 2.035, 2.06, 2.085, 2.11, 2.135, 2.16, 2.185, 2.21, 2.235, 2.26, 2.285, 2.31, 2.335, 2.36, 2.385,
    1.80, 1.83, 1.855, 1.88, 1.905, 1.93, 1.955, 1.98, 2.005, 2.03, 2.055, 2.08, 2.105, 2.13, 2.155, 2.18, 2.205, 2.23, 2.255, 2.28, 2.305, 2.33, 2.355, 2.38, 2.405,
]
dfge_fill = [
    185, 192, 180, 189, 183, 191, 178, 187, 193, 181, 190, 184, 179, 188, 192, 182, 186, 180, 191, 185, 189, 178, 187, 183, 193,
    185, 176, 182, 173, 187, 179, 184, 175, 181, 188, 177, 186, 180, 183, 174, 185, 178, 187, 176, 182, 179, 188, 175, 184, 181,
    175, 182, 170, 179, 173, 181, 168, 177, 183, 171, 180, 174, 169, 178, 182, 172, 176, 170, 181, 175, 179, 168, 177, 173, 183,
    175, 166, 172, 163, 177, 169, 174, 165, 171, 178, 167, 176, 170, 173, 164, 175, 168, 177, 166, 172, 169, 178, 165, 174, 171,
    165, 172, 160, 169, 163, 171, 158, 167, 173, 161, 170, 164, 159, 168, 172, 162, 166, 160, 171, 165, 169, 158, 167, 163, 173,
    165, 156, 162, 153, 167, 159, 164, 155, 161, 168, 157, 166, 160, 163, 154, 165, 158, 167, 156, 162, 159, 168, 155, 164, 161,
    155, 162, 150, 159, 153, 161, 148, 157, 163, 151, 160, 154, 149, 158, 162, 152, 156, 150, 161, 155, 159, 148, 157, 153, 163,
    155, 146, 152, 143, 157, 149, 154, 145, 151, 158, 147, 156, 150, 153, 144, 155, 148, 157, 146, 152, 149, 158, 145, 154, 151,
    145, 152, 140, 149, 143, 151, 138, 147, 153, 141, 150, 144, 139, 148, 152, 142, 146, 140, 151, 145, 149, 138, 147, 143, 153,
    145, 136, 142, 133, 147, 139, 144, 135, 141, 148, 137, 146, 140, 143, 134, 145, 138, 147, 136, 142, 139, 148, 135, 144, 141,
    135, 142, 130, 139, 133, 141, 128, 137, 143, 131, 140, 134, 129, 138, 142, 132, 136, 130, 141, 135, 139, 128, 137, 133, 143,
    135, 126, 132, 123, 137, 129, 134, 125, 131, 138, 127, 136, 130, 133, 124, 135, 128, 137, 126, 132, 129, 138, 125, 134, 131,
    125, 132, 120, 129, 123, 131, 118, 127, 133, 121, 130, 124, 119, 128, 132, 122, 126, 120, 131, 125, 129, 118, 127, 123, 133,
    125, 116, 122, 113, 127, 119, 124, 115, 121, 128, 117, 126, 120, 123, 114, 125, 118, 127, 116, 122, 119, 128, 115, 124, 121,
    115, 122, 110, 119, 113, 121, 108, 117, 123, 111, 120, 114, 109, 118, 122, 112, 116, 110, 121, 115, 119, 108, 117, 113, 123,
    115, 106, 112, 103, 117, 109, 114, 105, 111, 118, 107, 116, 110, 113, 104, 115, 108, 117, 106, 112, 109, 118, 105, 114, 111,
    105, 112, 100, 109, 103, 111, 98, 107, 113, 101, 110, 104, 99, 108, 112, 102, 106, 100, 111, 105, 109, 98, 107, 103, 113,
    105, 96, 102, 93, 107, 99, 104, 95, 101, 108, 97, 106, 100, 103, 94, 105, 98, 107, 96, 102, 99, 108, 95, 104, 101,
    95, 102, 90, 99, 93, 101, 88, 97, 103, 91, 100, 94, 89, 98, 102, 92, 96, 90, 101, 95, 99, 88, 97, 93, 103,
    95, 86, 92, 83, 97, 89, 94, 85, 91, 98, 87, 96, 90, 93, 84, 95, 88, 97, 86, 92, 89, 98, 85, 94, 91,
    85, 92, 80, 89, 83, 91, 78, 87, 93, 81, 90, 84, 79, 88, 92, 82, 86, 80, 91, 85, 89, 78, 87, 83, 93,
    85, 76, 82, 73, 87, 79, 84, 75, 81, 88, 77, 86, 80, 83, 74, 85, 78, 87, 76, 82, 79, 88, 75, 84, 81,
    75, 82, 70, 79, 73, 81, 68, 77, 83, 71, 80, 74, 69, 78, 82, 72, 76, 70, 81, 75, 79, 68, 77, 73, 83,
    75, 66, 72, 63, 77, 69, 74, 65, 71, 78, 67, 76, 70, 73, 64, 75, 68, 77, 66, 72, 69, 78, 65, 74, 71,
    65, 72, 60, 69, 63, 71, 58, 67, 73, 61, 70, 64, 59, 68, 72, 62, 66, 60, 71, 65, 69, 58, 67, 63, 73,
    65, 56, 62, 53, 67, 59, 64, 55, 61, 68, 57, 66, 60, 63, 54, 65, 58, 67, 56, 62, 59, 68, 55, 64, 61,
    55, 62, 50, 59, 53, 61, 48, 57, 63, 51, 60, 54, 49, 58, 62, 52, 56, 50, 61, 55, 59, 48, 57, 53, 63,
    55, 46, 52, 43, 57, 49, 54, 45, 51, 58, 47, 56, 50, 53, 44, 55, 48, 57, 46, 52, 49, 58, 45, 54, 51,
]

# regression line and stats as printed on the chart
fit_slope = -18.9
fit_intercept = 140.5
r_value = -0.13
p_value = 5.122e-12

x = np.array(cat_conv_sparse + cat_conv_dense + cat_conv_centre + cat_conv_fill)
y = np.array(dfge_sparse + dfge_dense + dfge_centre + dfge_fill)

blue = '#0072b2'
green = '#9fd68b'

fig = plt.figure(figsize=(9.5, 6.02), dpi=100)
ax = fig.add_axes([0.111, 0.12, 0.862, 0.863])

ax.scatter(x, y, s=100, color=blue, alpha=0.2, linewidths=1.2, zorder=2)

xl = np.array([x.min(), x.max()])
ax.plot(xl, fit_intercept + fit_slope * xl, color=green, lw=4.5, zorder=3)

ax.set_xticks([1, 2, 3, 4])
ax.set_yticks([0, 50, 100, 150, 200])
for s in ax.spines.values():
    s.set_visible(False)
ax.tick_params(length=0, pad=9, labelsize=15.5, labelcolor='#a6d692')
for lab in ax.get_xticklabels() + ax.get_yticklabels():
    lab.set_fontweight('bold')

ax.set_xlabel('CaT_conv', fontsize=21)
ax.set_ylabel('DFGe', fontsize=21)

fig.text(0.9716, 0.950, f'r :  {r_value}', ha='right', va='baseline', fontsize=22)
fig.text(0.9716, 0.884, f'p_value:  {p_value}', ha='right', va='baseline', fontsize=22)

fig.savefig('out.png', dpi=100)
